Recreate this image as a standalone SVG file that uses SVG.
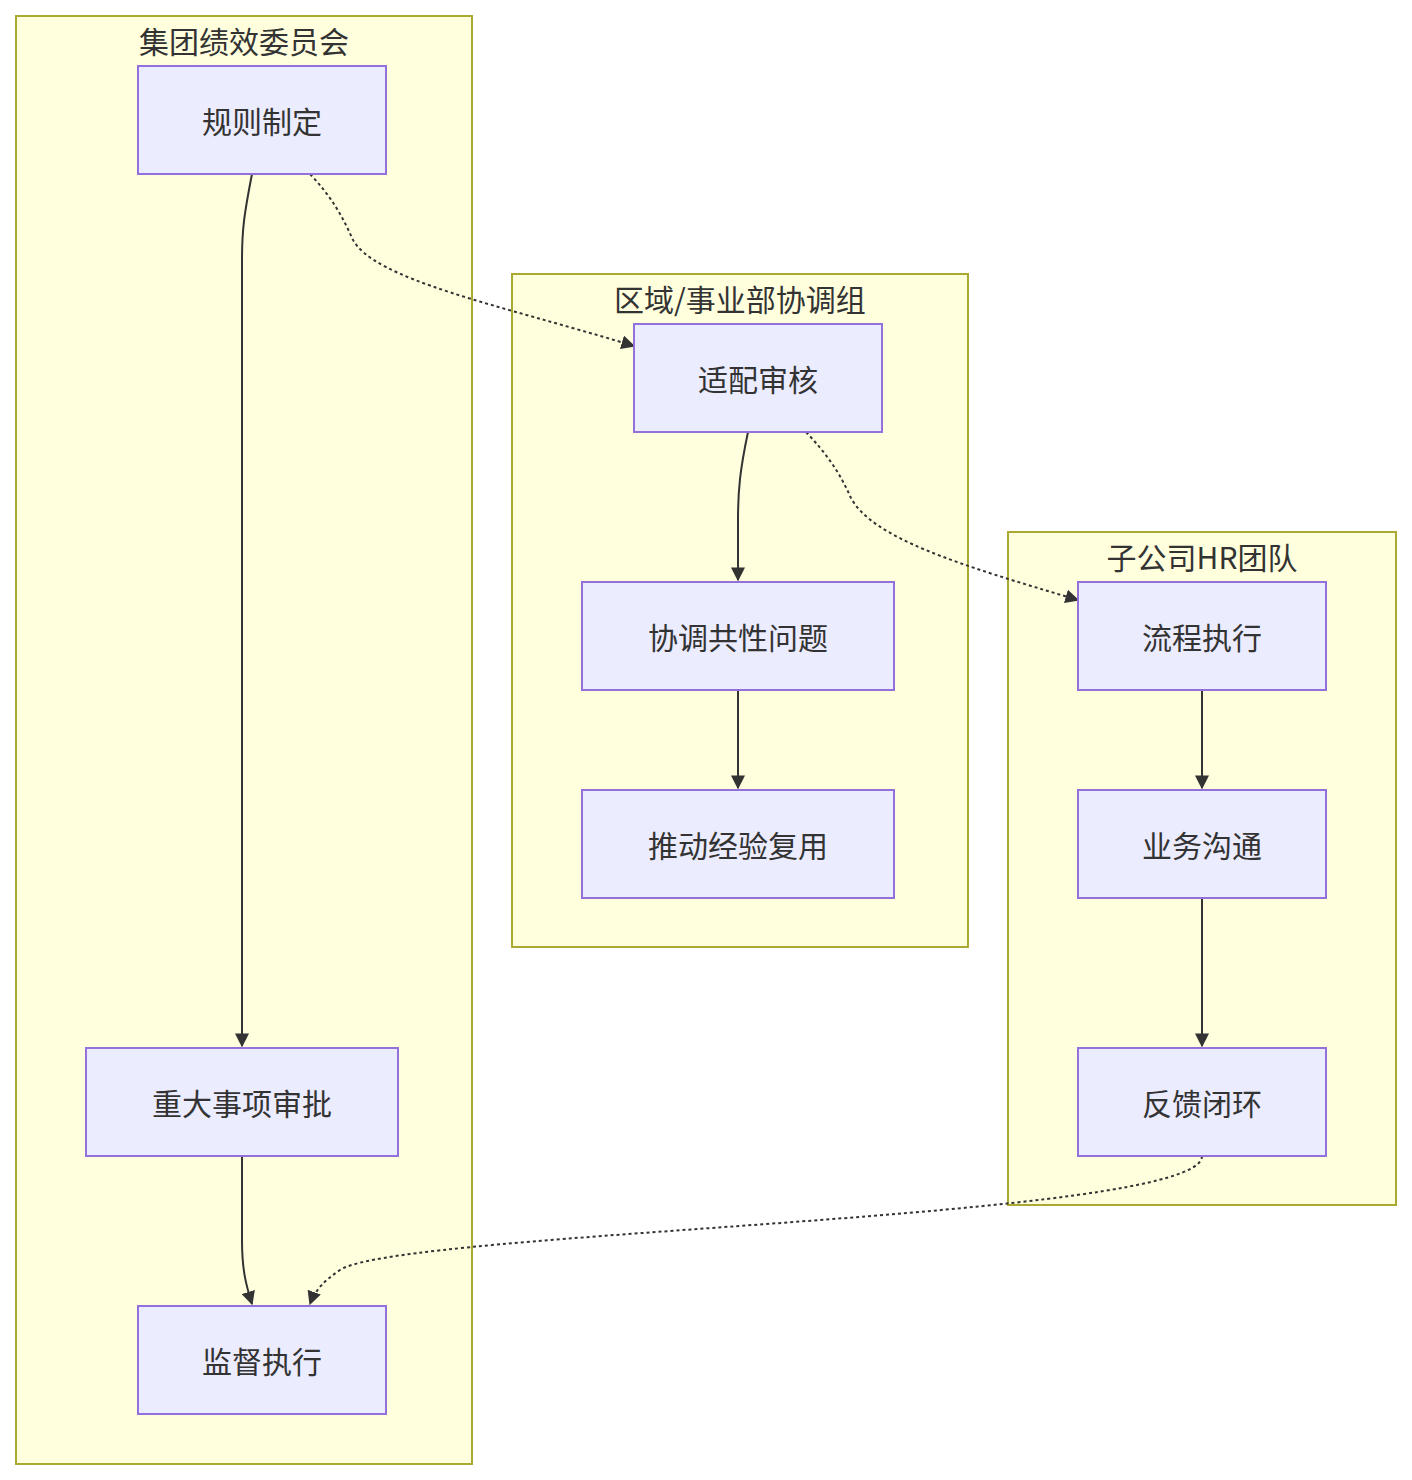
<svg xmlns="http://www.w3.org/2000/svg" width="1412" height="1480" viewBox="0 0 1412 1480">
<style>
.c{fill:#ffffde;stroke:#aaaa33;stroke-width:2}
.n{fill:#ececff;stroke:#9370db;stroke-width:2}
text{font-family:"Noto Sans CJK SC","Noto Sans",sans-serif;font-size:30px;fill:#333;text-anchor:middle;dominant-baseline:central}
.e{fill:none;stroke:#333;stroke-width:2}
.d{stroke-dasharray:3 3}
</style>
<defs><marker id="a" viewBox="0 0 10 10" refX="9" refY="5" markerWidth="7" markerHeight="7" orient="auto"><path d="M0,0L10,5L0,10z" fill="#333"/></marker></defs>
<g id="cl1"><rect class="c" x="16" y="16" width="456" height="1448"/><text x="244" y="40">集团绩效委员会</text></g>
<g id="cl2"><rect class="c" x="512" y="274" width="456" height="673"/><text x="740" y="298">区域/事业部协调组</text></g>
<g id="cl3"><rect class="c" x="1008" y="532" width="388" height="673"/><text x="1202" y="556">子公司HR团队</text></g>
<g id="connectors">
<path class="e" marker-end="url(#a)" d="M252,174 C244,215 242,230 242,260 L242,1046"/>
<path class="e d" marker-end="url(#a)" d="M310,174 C330,195 342,215 352,238 C372,280 500,305 634,346"/>
<path class="e" marker-end="url(#a)" d="M748,432 C740,470 738,490 738,520 L738,580"/>
<path class="e" marker-end="url(#a)" d="M738,690 L738,788"/>
<path class="e d" marker-end="url(#a)" d="M806,432 C826,453 840,473 850,496 C870,538 960,565 1078,600"/>
<path class="e" marker-end="url(#a)" d="M1202,690 L1202,788"/>
<path class="e" marker-end="url(#a)" d="M1202,898 L1202,1046"/>
<path class="e d" marker-end="url(#a)" d="M1202,1156 C1202,1220 400,1230 340,1270 C325,1280 315,1290 310,1304"/>
<path class="e" marker-end="url(#a)" d="M242,1156 L242,1240 C242,1270 246,1285 252,1304"/>
</g>
<g id="n1"><rect class="n" x="138" y="66" width="248" height="108"/><text x="262" y="120">规则制定</text></g>
<g id="n2"><rect class="n" x="86" y="1048" width="312" height="108"/><text x="242" y="1102">重大事项审批</text></g>
<g id="n3"><rect class="n" x="138" y="1306" width="248" height="108"/><text x="262" y="1360">监督执行</text></g>
<g id="n4"><rect class="n" x="634" y="324" width="248" height="108"/><text x="758" y="378">适配审核</text></g>
<g id="n5"><rect class="n" x="582" y="582" width="312" height="108"/><text x="738" y="636">协调共性问题</text></g>
<g id="n6"><rect class="n" x="582" y="790" width="312" height="108"/><text x="738" y="844">推动经验复用</text></g>
<g id="n7"><rect class="n" x="1078" y="582" width="248" height="108"/><text x="1202" y="636">流程执行</text></g>
<g id="n8"><rect class="n" x="1078" y="790" width="248" height="108"/><text x="1202" y="844">业务沟通</text></g>
<g id="n9"><rect class="n" x="1078" y="1048" width="248" height="108"/><text x="1202" y="1102">反馈闭环</text></g>
</svg>
